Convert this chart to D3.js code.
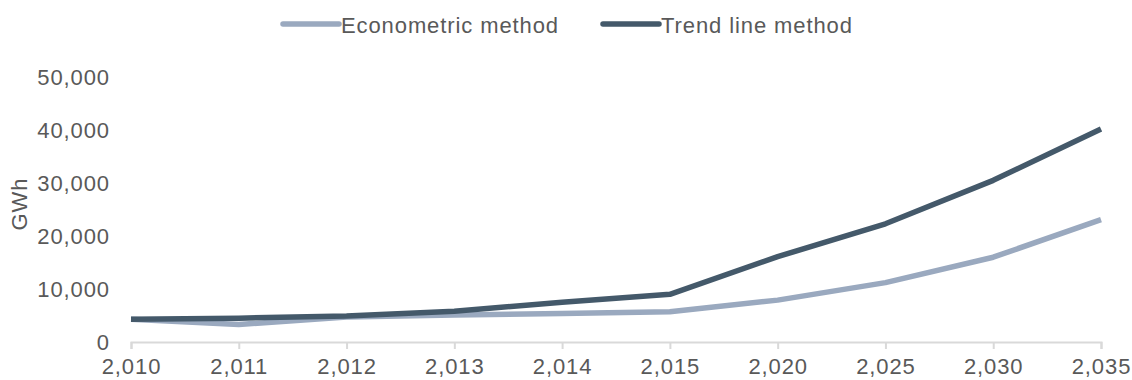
<!DOCTYPE html>
<html>
<head>
<meta charset="utf-8">
<script src="https://cdn.jsdelivr.net/npm/d3@7"></script>
<style>
  html, body { margin: 0; padding: 0; background: #fff; }
  svg text { font-family: "Liberation Sans", Arial, sans-serif; fill: #595959; letter-spacing: 0.9px; }
</style>
</head>
<body>
<svg id="chart" width="1132" height="380"></svg>
<script>
// Electricity demand projections (GWh)
const years = ["2,010", "2,011", "2,012", "2,013", "2,014", "2,015", "2,020", "2,025", "2,030", "2,035"];
const econometric = [4300, 3300, 4700, 5100, 5400, 5700, 7900, 11200, 16000, 23100];
const trendLine = [4300, 4500, 4900, 5800, 7500, 9000, 16100, 22300, 30500, 40200];
const yTicks = [0, 10000, 20000, 30000, 40000, 50000];
const seriesNames = ["Econometric method", "Trend line method"];
const seriesColors = ["#9aa9bf", "#44596a"];

const svg = d3.select("#chart");
const margin = { left: 131, right: 31, top: 77, bottom: 38 };
const W = 1132, H = 380;

const x = d3.scalePoint().domain(years).range([margin.left, W - margin.right]).padding(0);
const y = d3.scaleLinear().domain([0, 50000]).range([H - margin.bottom, margin.top]);

// x axis: light baseline with ticks at each category
const xAxis = svg.append("g")
  .attr("transform", `translate(0,${y(0)})`)
  .call(d3.axisBottom(x).tickSize(7).tickPadding(9));
xAxis.select(".domain").attr("stroke", "#d9d9d9").attr("stroke-width", 2);
xAxis.selectAll(".tick line").attr("stroke", "#d9d9d9").attr("stroke-width", 2);
xAxis.selectAll(".tick text").attr("font-size", 22).attr("fill", "#595959");

// y axis: labels only
const yAxis = svg.append("g")
  .attr("transform", `translate(${margin.left},0)`)
  .call(d3.axisLeft(y).tickValues(yTicks).tickFormat(d3.format(",")).tickSize(0).tickPadding(21));
yAxis.select(".domain").remove();
yAxis.selectAll(".tick text").attr("font-size", 22).attr("fill", "#595959");

svg.append("text")
  .attr("transform", `translate(27,204) rotate(-90)`)
  .attr("text-anchor", "middle")
  .attr("font-size", 22)
  .text("GWh");

// series lines
const line = d3.line().x((d, i) => x(years[i])).y(d => y(d));
[econometric, trendLine].forEach((vals, k) => {
  svg.append("path")
    .datum(vals)
    .attr("fill", "none")
    .attr("stroke", seriesColors[k])
    .attr("stroke-width", 5.5)
    .attr("stroke-linejoin", "round")
    .attr("d", line);
});

// legend
const legendX = [283, 603];
seriesNames.forEach((name, k) => {
  const g = svg.append("g").attr("transform", `translate(${legendX[k]},24)`);
  g.append("line")
    .attr("x1", 0).attr("x2", 56)
    .attr("stroke", seriesColors[k])
    .attr("stroke-width", 5.5)
    .attr("stroke-linecap", "round");
  g.append("text")
    .attr("x", 58).attr("y", 8.5)
    .attr("font-size", 22)
    .text(name);
});
</script>
</body>
</html>
